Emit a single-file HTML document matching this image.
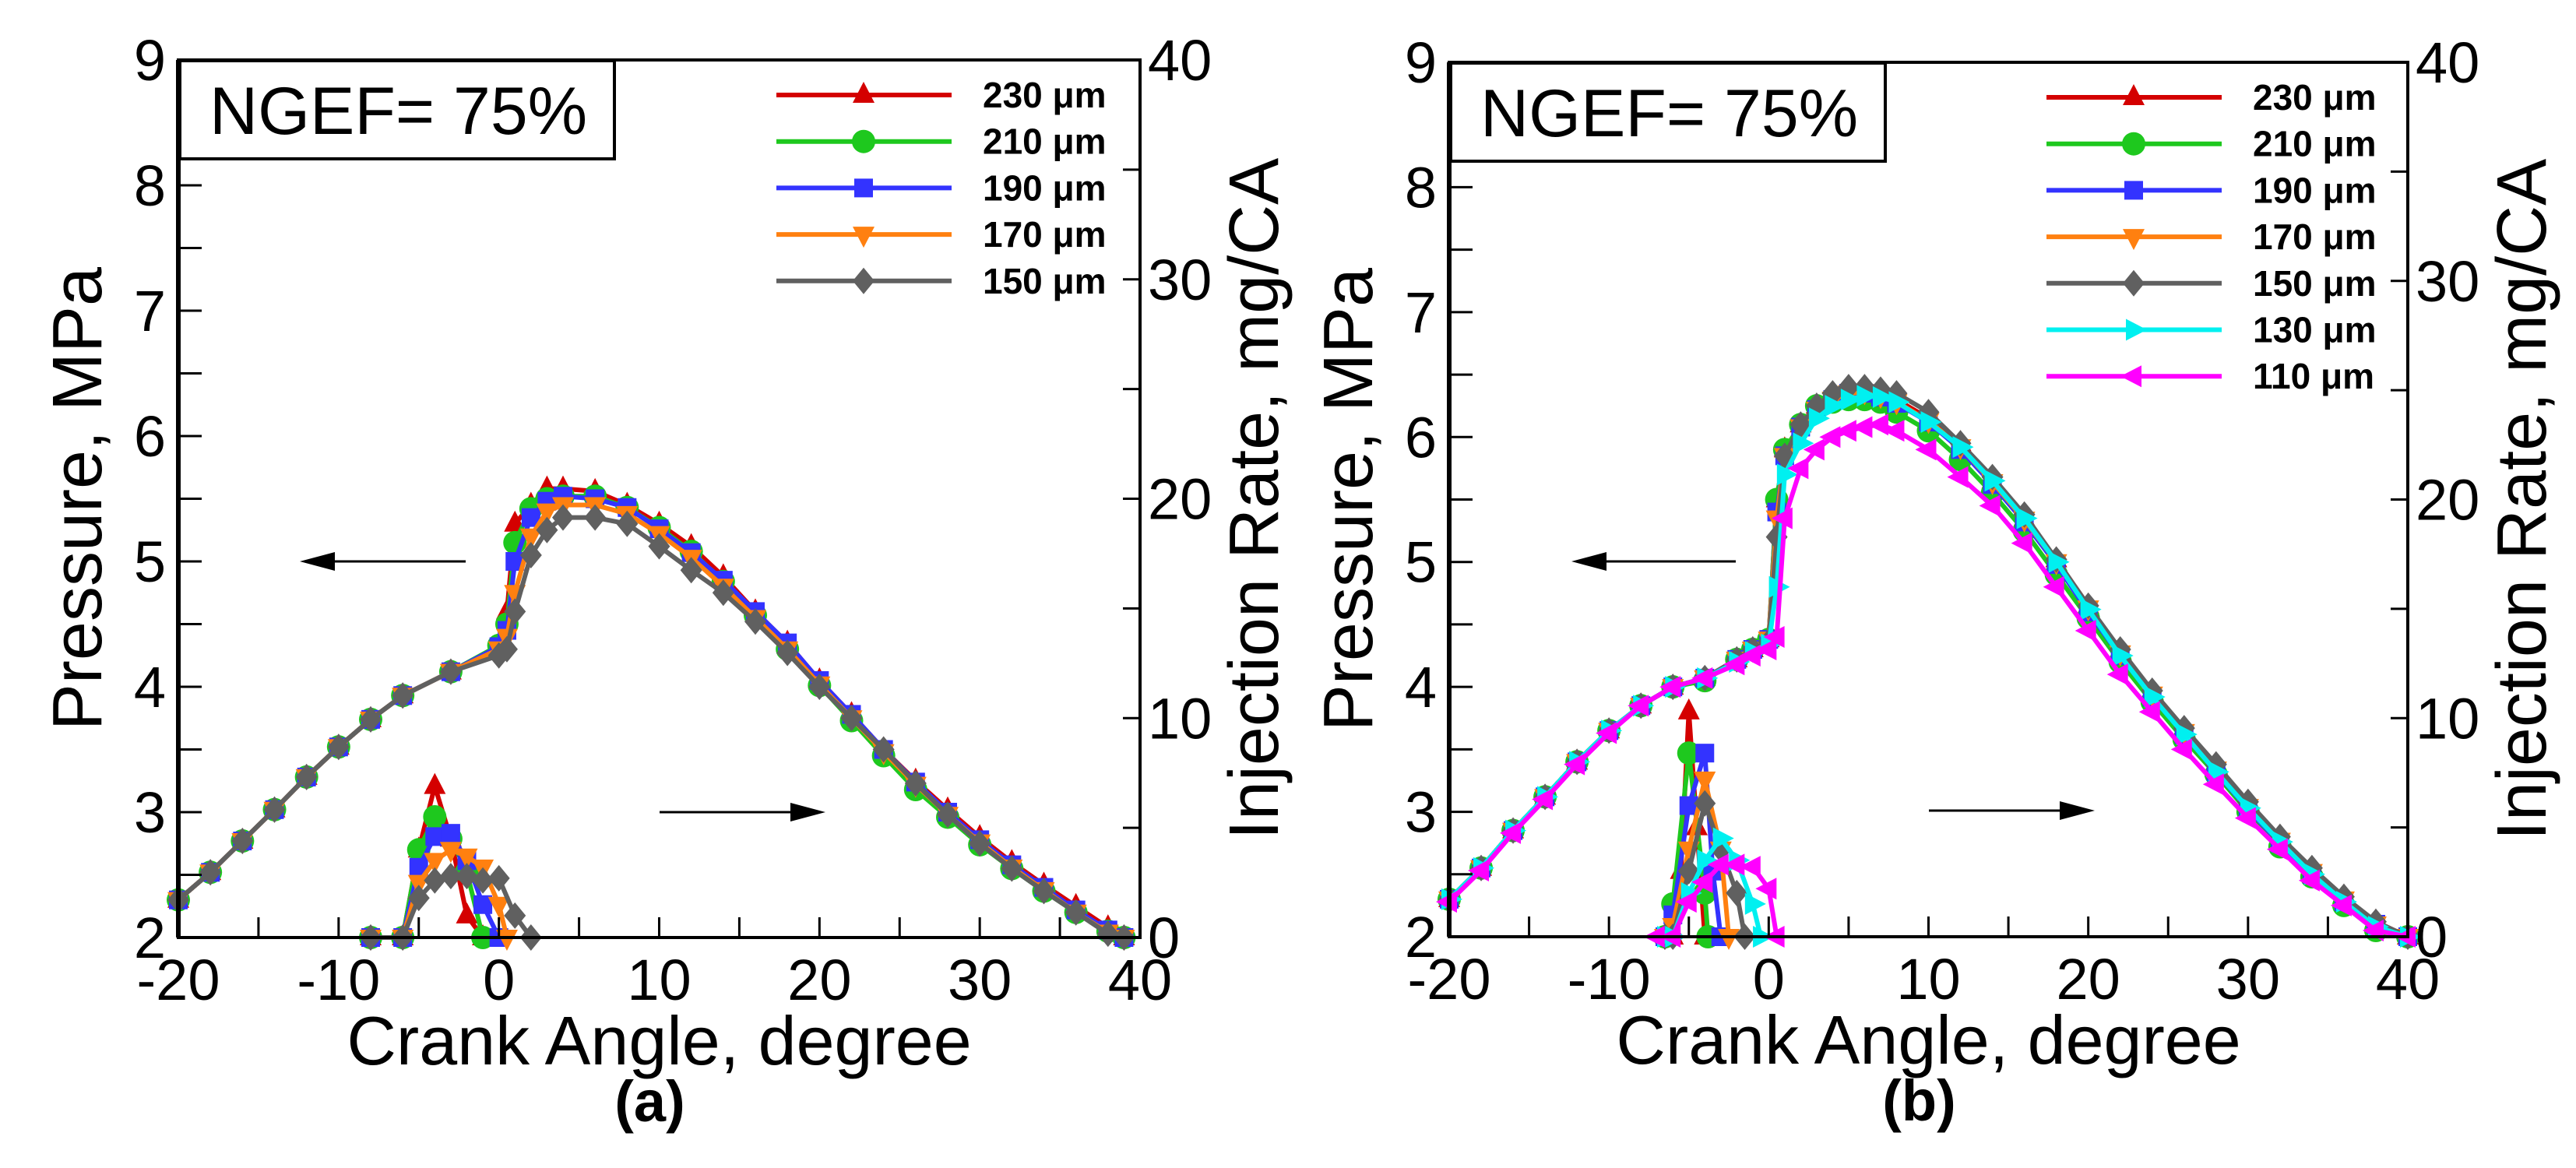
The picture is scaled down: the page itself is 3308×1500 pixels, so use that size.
<!DOCTYPE html>
<html><head><meta charset="utf-8"><style>
html,body{margin:0;padding:0;background:#fff;}
svg{display:block;}
text{font-family:"Liberation Sans",Arial,sans-serif;}
</style></head><body>
<svg id="fig" width="3308" height="1500" viewBox="0 0 3308 1500" xmlns="http://www.w3.org/2000/svg"></svg>
<script>
// ---- data ----
const legendA = ["230 μm","210 μm","190 μm","170 μm","150 μm"];
const legendB = ["230 μm","210 μm","190 μm","170 μm","150 μm","130 μm","110 μm"];
const xTicks = [-20,-10,0,10,20,30,40];
const pTicks = [2,3,4,5,6,7,8,9];
const rTicks = [0,10,20,30,40];

const xa = [-20,-18,-16,-14,-12,-10,-8,-6,-3,0,0.5,1,2,3,4,6,8,10,12,14,16,18,20,22,24,26,28,30,32,34,36,38,39];
const pa230 = [2.3,2.52,2.77,3.02,3.28,3.52,3.74,3.93,4.12,4.3,4.6,5.3,5.45,5.58,5.58,5.56,5.45,5.3,5.12,4.88,4.6,4.35,4.05,3.78,3.5,3.25,3.02,2.8,2.6,2.42,2.25,2.08,2.0];
const pa210 = [2.3,2.52,2.77,3.02,3.28,3.52,3.74,3.93,4.12,4.33,4.5,5.15,5.42,5.5,5.52,5.52,5.43,5.27,5.08,4.84,4.57,4.3,4.01,3.73,3.45,3.18,2.96,2.74,2.55,2.37,2.2,2.05,2.0];
const pa190 = [2.3,2.52,2.77,3.02,3.28,3.52,3.74,3.93,4.12,4.32,4.45,5.0,5.35,5.48,5.52,5.5,5.43,5.26,5.07,4.85,4.6,4.35,4.05,3.78,3.5,3.24,3.0,2.78,2.58,2.4,2.22,2.06,2.0];
const pa170 = [2.3,2.52,2.77,3.02,3.28,3.52,3.74,3.93,4.12,4.3,4.4,4.75,5.2,5.4,5.45,5.45,5.38,5.22,5.03,4.8,4.55,4.3,4.02,3.75,3.48,3.22,2.98,2.76,2.56,2.38,2.2,2.04,2.0];
const pa150 = [2.3,2.52,2.77,3.02,3.28,3.52,3.74,3.93,4.12,4.25,4.3,4.6,5.05,5.25,5.35,5.35,5.3,5.12,4.93,4.75,4.52,4.27,4.0,3.75,3.5,3.23,2.98,2.75,2.55,2.37,2.2,2.03,2.0];

const ra230x = [-8,-6,-5,-4,-3,-2,-1];       const ra230 = [0,0,4,6.9,4.5,1,0];
const ra210x = [-8,-6,-5,-4,-3,-2,-1];       const ra210 = [0,0,4,5.5,4.5,3,0];
const ra190x = [-8,-6,-5,-4,-3,-2,-1,0];     const ra190 = [0,0,3.2,4.6,4.75,3.5,1.5,0];
const ra170x = [-8,-6,-5,-4,-3,-2,-1,0,0.5]; const ra170 = [0,0,2.5,3.5,4.0,3.7,3.2,1.5,0];
const ra150x = [-8,-6,-5,-4,-3,-2,-1,0,1,2]; const ra150 = [0,0,1.8,2.6,2.8,2.8,2.6,2.7,1.0,0];

const xb = [-20,-18,-16,-14,-12,-10,-8,-6,-4,-2,-1,0,0.5,1,2,3,4,5,6,7,8,10,12,14,16,18,20,22,24,26,28,30,32,34,36,38,40];
const pb230 = [2.3,2.55,2.85,3.12,3.4,3.65,3.85,4.0,4.07,4.22,4.3,4.38,5.5,5.9,6.1,6.25,6.32,6.37,6.38,6.35,6.3,6.15,5.95,5.65,5.35,5.02,4.65,4.28,3.95,3.65,3.35,3.05,2.78,2.53,2.3,2.12,2.0];
const pb210 = [2.3,2.55,2.85,3.12,3.4,3.65,3.85,4.0,4.05,4.22,4.3,4.38,5.5,5.9,6.1,6.25,6.28,6.3,6.3,6.28,6.2,6.05,5.82,5.55,5.25,4.9,4.55,4.2,3.88,3.58,3.3,3.0,2.72,2.48,2.25,2.05,2.0];
const pb190 = [2.3,2.55,2.85,3.12,3.4,3.65,3.85,4.0,4.07,4.22,4.3,4.38,5.4,5.85,6.08,6.22,6.3,6.35,6.35,6.32,6.27,6.12,5.9,5.62,5.32,4.98,4.6,4.25,3.92,3.62,3.32,3.02,2.75,2.5,2.28,2.1,2.0];
const pb170 = [2.3,2.55,2.85,3.12,3.4,3.65,3.85,4.0,4.07,4.22,4.3,4.38,5.35,5.85,6.08,6.22,6.3,6.35,6.36,6.33,6.28,6.13,5.92,5.64,5.34,5.0,4.63,4.27,3.94,3.64,3.34,3.04,2.77,2.52,2.3,2.1,2.0];
const pb150 = [2.3,2.55,2.85,3.12,3.4,3.65,3.85,4.0,4.07,4.22,4.3,4.36,5.2,5.85,6.1,6.25,6.35,6.4,6.4,6.38,6.35,6.2,5.95,5.68,5.38,5.02,4.65,4.3,3.97,3.67,3.38,3.08,2.8,2.55,2.32,2.12,2.0];
const pb130 = [2.3,2.55,2.85,3.12,3.4,3.65,3.85,4.0,4.07,4.2,4.28,4.34,4.8,5.7,5.95,6.15,6.25,6.3,6.33,6.32,6.28,6.12,5.92,5.65,5.35,5.0,4.62,4.25,3.92,3.62,3.32,3.03,2.76,2.5,2.28,2.08,2.0];
const pb110 = [2.28,2.53,2.83,3.1,3.38,3.63,3.85,4.0,4.07,4.18,4.25,4.3,4.4,5.35,5.75,5.9,6.0,6.05,6.08,6.1,6.05,5.9,5.68,5.45,5.15,4.8,4.45,4.1,3.8,3.5,3.22,2.95,2.7,2.45,2.25,2.05,2.0];

const rb230x = [-6,-5.5,-5,-4.5,-4];            const rb230 = [0,3,10.3,5,0];
const rb210x = [-6.5,-6,-5,-4,-3.8];            const rb210 = [0,1.5,8.4,2,0];
const rb190x = [-6.5,-6,-5,-4,-3.5,-3];         const rb190 = [0,1,6,8.4,3,0];
const rb170x = [-6.5,-6,-5,-4,-3,-2.5];         const rb170 = [0,0.5,4,7.2,4,0];
const rb150x = [-6.5,-6,-5,-4,-3,-2,-1.5];      const rb150 = [0,0,3,6.1,4,2,0];
const rb130x = [-6.5,-6,-5,-4,-3,-2,-1,-0.5];   const rb130 = [0,0,2,3.5,4.5,3.5,1.5,0];
const rb110x = [-7,-6,-5,-4,-3,-2,-1,0,0.5];    const rb110 = [0,0,1.6,2.5,3.3,3.3,3.2,2.2,0];

const colors = ["#d40000","#1ec81e","#3333ff","#ff8010","#606060","#00f0f0","#ff00ff"];
const mtypes = ["tu","c","s","td","d","tr","tl"];

// ---- drawing ----
const NS="http://www.w3.org/2000/svg";
const svg=document.getElementById('fig');
function mk(tag,attrs,parent){const e=document.createElementNS(NS,tag);for(const k in attrs)e.setAttribute(k,attrs[k]);(parent||svg).appendChild(e);return e;}

function marker(g,type,x,y,col){
  const r=15;let e;
  if(type==="c") e=mk('circle',{cx:x,cy:y,r:r,fill:col},g);
  else if(type==="s") e=mk('rect',{x:x-12,y:y-12,width:24,height:24,fill:col},g);
  else if(type==="d") e=mk('polygon',{points:`${x},${y-17} ${x+14},${y} ${x},${y+17} ${x-14},${y}`,fill:col},g);
  else if(type==="tu") e=mk('polygon',{points:`${x},${y-17} ${x+14},${y+10} ${x-14},${y+10}`,fill:col},g);
  else if(type==="td") e=mk('polygon',{points:`${x},${y+17} ${x+14},${y-10} ${x-14},${y-10}`,fill:col},g);
  else if(type==="tr") e=mk('polygon',{points:`${x+17},${y} ${x-10},${y+14} ${x-10},${y-14}`,fill:col},g);
  else e=mk('polygon',{points:`${x-17},${y} ${x+10},${y+14} ${x+10},${y-14}`,fill:col},g);
  
  
}

function panel(P){
  const {x0,x1,y0,y1,id}=P;
  const X=v=>x0+(v+20)/60*(x1-x0);
  const Yp=v=>y1-(v-2)/7*(y1-y0);
  const Yr=v=>y1-v/40*(y1-y0);
  const g=mk('g',{});
  
  

  P.press.forEach((s,i)=>{
    const sg=mk('g',{},g);
    
    
    const pts=s.x.map((v,j)=>X(v)+','+Yp(s.y[j])).join(' ');
    const pl=mk('polyline',{points:pts,fill:'none',stroke:colors[i],'stroke-width':6,'stroke-linejoin':'round'},sg);
    
    
    s.x.forEach((v,j)=>marker(sg,mtypes[i],X(v),Yp(s.y[j]),colors[i]));
  });
  P.rate.forEach((s,i)=>{
    const sg=mk('g',{},g);
    
    
    const pts=s.x.map((v,j)=>X(v)+','+Yr(s.y[j])).join(' ');
    const pl=mk('polyline',{points:pts,fill:'none',stroke:colors[i],'stroke-width':6,'stroke-linejoin':'round'},sg);
    
    
    s.x.forEach((v,j)=>marker(sg,mtypes[i],X(v),Yr(s.y[j]),colors[i]));
  });

  const fr=mk('rect',{x:x0,y:y0,width:x1-x0,height:y1-y0,fill:'none',stroke:'#000','stroke-width':4},g);
  
  
  mk('line',{x1:x0,y1:y0,x2:x0,y2:y1,stroke:'#000','stroke-width':6},g);
  for(let v=2;v<=9.001;v+=0.5){const y=Yp(v);mk('line',{x1:x0,y1:y,x2:x0+30,y2:y,stroke:'#000','stroke-width':3},g);}
  pTicks.forEach(v=>{const t=mk('text',{x:x0-16,y:Yp(v)+26,'font-size':74,'text-anchor':'end'},g);t.textContent=v;
    });
  for(let v=0;v<=40;v+=5){const y=Yr(v);mk('line',{x1:x1,y1:y,x2:x1-22,y2:y,stroke:'#000','stroke-width':3},g);}
  rTicks.forEach(v=>{const t=mk('text',{x:x1+10,y:Yr(v)+26,'font-size':74},g);t.textContent=v;
    });
  for(let v=-20;v<=40;v+=5){const x=X(v);mk('line',{x1:x,y1:y1,x2:x,y2:y1-26,stroke:'#000','stroke-width':3},g);}
  xTicks.forEach(v=>{const t=mk('text',{x:X(v),y:y1+80,'font-size':74,'text-anchor':'middle'},g);t.textContent=v;
    });

  let t=mk('text',{x:(x0+x1)/2,y:y1+163,'font-size':88,'text-anchor':'middle'},g);t.textContent='Crank Angle, degree';
  
  t=mk('text',{x:0,y:0,'font-size':90,'text-anchor':'middle',transform:`translate(${x0-99},${(y0+y1)/2}) rotate(-90)`},g);t.textContent='Pressure, MPa';
  
  t=mk('text',{x:0,y:0,'font-size':90,'text-anchor':'middle',transform:`translate(${x1+177},${(y0+y1)/2}) rotate(-90)`},g);t.textContent='Injection Rate, mg/CA';
  
  t=mk('text',{x:(x0+x1)/2-12,y:y1+236,'font-size':74,'font-weight':'bold','text-anchor':'middle'},g);t.textContent=P.label;
  

  const bx=mk('rect',{x:x0+2,y:y0+1,width:558,height:126,fill:'#fff',stroke:'#000','stroke-width':4},g);
  
  t=mk('text',{x:x0+40,y:y0+95,'font-size':86},g);t.textContent='NGEF= 75%';
  

  P.legend.forEach((lab,i)=>{
    const lg=mk('g',{},g);
    
    
    const y=y0+45+i*59.7;
    mk('line',{x1:P.lx,y1:y,x2:P.lx+225,y2:y,stroke:colors[i],'stroke-width':6},lg);
    marker(lg,mtypes[i],P.lx+112,y,colors[i]);
    const tt=mk('text',{x:P.lx+265,y:y+16,'font-size':46,'font-weight':'bold'},lg);tt.textContent=lab;
  });

  function arrow(xa,xb,y,name){
    const ag=mk('g',{},g);
    
    const dir=Math.sign(xb-xa);
    mk('line',{x1:xa,y1:y,x2:xb-dir*40,y2:y,stroke:'#000','stroke-width':3},ag);
    mk('polygon',{points:`${xb},${y} ${xb-dir*45},${y-12} ${xb-dir*45},${y+12}`,fill:'#000'},ag);
  }
  arrow(P.al[0],P.al[1],P.al[2],'left-axis-arrow');
  arrow(P.ar[0],P.ar[1],P.ar[2],'right-axis-arrow');
}

panel({id:'a',label:'(a)',x0:229,x1:1464,y0:77,y1:1204,lx:997,legend:legendA,
  al:[598,385,721],ar:[847,1060,1043],
  press:[{x:xa,y:pa230},{x:xa,y:pa210},{x:xa,y:pa190},{x:xa,y:pa170},{x:xa,y:pa150}],
  rate:[{x:ra230x,y:ra230},{x:ra210x,y:ra210},{x:ra190x,y:ra190},{x:ra170x,y:ra170},{x:ra150x,y:ra150}]});
panel({id:'b',label:'(b)',x0:1861,x1:3092,y0:80,y1:1203,lx:2628,legend:legendB,
  al:[2229,2018,721],ar:[2477,2690,1041],
  press:[{x:xb,y:pb230},{x:xb,y:pb210},{x:xb,y:pb190},{x:xb,y:pb170},{x:xb,y:pb150},{x:xb,y:pb130},{x:xb,y:pb110}],
  rate:[{x:rb230x,y:rb230},{x:rb210x,y:rb210},{x:rb190x,y:rb190},{x:rb170x,y:rb170},{x:rb150x,y:rb150},{x:rb130x,y:rb130},{x:rb110x,y:rb110}]});
</script>
</body></html>
